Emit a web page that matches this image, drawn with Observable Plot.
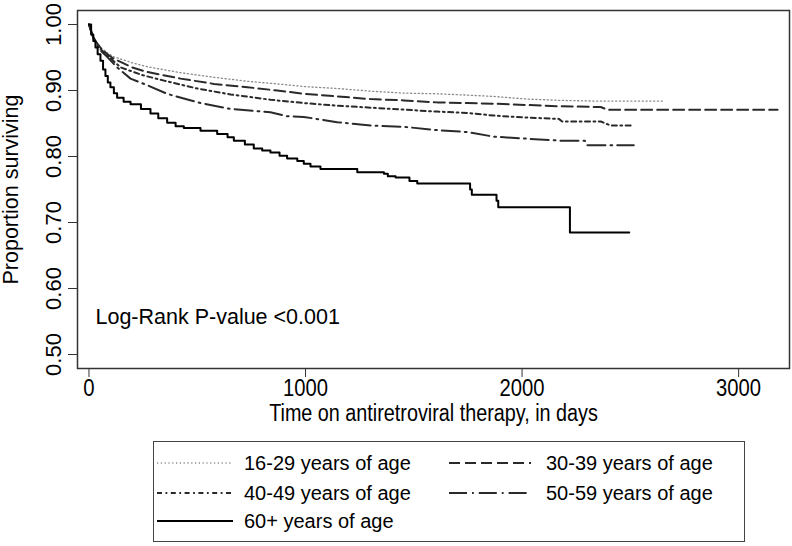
<!DOCTYPE html>
<html>
<head>
<meta charset="utf-8">
<script src="https://cdn.jsdelivr.net/npm/d3@7"></script>
<script src="https://cdn.jsdelivr.net/npm/@observablehq/plot@0.6"></script>
<style>
  html, body { margin: 0; padding: 0; background: #fff; overflow: hidden; }
  #fig { position: relative; width: 792px; height: 546px; font-family: "Liberation Sans", Arial, Helvetica, sans-serif; }
  #legend { position: absolute; left: 153px; top: 441px; width: 592px; height: 101px; box-sizing: border-box; border: 1.5px solid #444; }
  #legend svg { display: block; }
</style>
</head>
<body>
<div id="fig"><div id="plot"></div><div id="legend"></div></div>
<script>
// ---- Data ----
const groups = ["16-29 years of age", "30-39 years of age", "40-49 years of age", "50-59 years of age", "60+ years of age"];

const t1629 = [0, 15, 30, 55, 85, 115, 200, 269, 423, 577, 731, 869, 992, 1146, 1300, 1454, 1608, 1747, 1870, 2024, 2178, 2332, 2655];
const s1629 = [1, 0.985, 0.975, 0.965, 0.957, 0.951, 0.942, 0.936, 0.927, 0.920, 0.914, 0.910, 0.906, 0.903, 0.899, 0.896, 0.895, 0.893, 0.891, 0.887, 0.885, 0.884, 0.884];

const t3039 = [0, 15, 30, 55, 85, 115, 200, 269, 423, 577, 731, 869, 992, 1146, 1300, 1454, 1608, 1747, 1870, 2024, 2178, 2363, 2393, 3180];
const s3039 = [1, 0.985, 0.975, 0.964, 0.955, 0.948, 0.935, 0.928, 0.918, 0.910, 0.905, 0.900, 0.895, 0.891, 0.887, 0.885, 0.882, 0.881, 0.880, 0.878, 0.876, 0.875, 0.871, 0.871];

const t4049 = [0, 15, 30, 55, 85, 146, 250, 346, 500, 654, 838, 992, 1146, 1300, 1454, 1608, 1747, 1870, 2024, 2170, 2185, 2363, 2409, 2504];
const s4049 = [1, 0.985, 0.974, 0.962, 0.953, 0.935, 0.923, 0.915, 0.903, 0.894, 0.886, 0.881, 0.877, 0.874, 0.871, 0.868, 0.866, 0.862, 0.859, 0.857, 0.853, 0.853, 0.847, 0.847];

const t5059 = [0, 15, 30, 55, 84, 130, 192, 269, 361, 392, 515, 654, 838, 915, 992, 1146, 1300, 1454, 1608, 1747, 1870, 2024, 2178, 2290, 2301, 2516];
const s5059 = [1, 0.984, 0.972, 0.960, 0.951, 0.935, 0.918, 0.908, 0.895, 0.892, 0.881, 0.872, 0.867, 0.861, 0.860, 0.852, 0.847, 0.845, 0.840, 0.837, 0.830, 0.827, 0.824, 0.824, 0.817, 0.817];

const t60 = [0, 10, 20, 30, 40, 53, 65, 76, 87, 99, 115, 130, 160, 192, 240, 284, 320, 361, 400, 438, 515, 592, 640, 669, 720, 761, 800, 838, 880, 915, 962, 992, 1023, 1069, 1208, 1239, 1362, 1380, 1416, 1480, 1516, 1760, 1768, 1882, 1890, 2221, 2495];
const s60 = [1, 0.985, 0.975, 0.965, 0.955, 0.945, 0.932, 0.922, 0.912, 0.905, 0.896, 0.889, 0.883, 0.879, 0.872, 0.865, 0.858, 0.851, 0.846, 0.843, 0.839, 0.834, 0.829, 0.824, 0.818, 0.812, 0.809, 0.806, 0.801, 0.797, 0.793, 0.789, 0.785, 0.781, 0.781, 0.776, 0.774, 0.770, 0.768, 0.763, 0.759, 0.750, 0.742, 0.733, 0.723, 0.685, 0.685];

const xTicks = [0, 1000, 2000, 3000];
const yTicks = [0.5, 0.6, 0.7, 0.8, 0.9, 1.0];
const xLabel = "Time on antiretroviral therapy, in days";
const yLabel = "Proportion surviving";
const annotation = {text: "Log-Rank P-value <0.001", t: 30, s: 0.557};

// ---- Build tidy rows ----
const seriesT = [t1629, t3039, t4049, t5059, t60];
const seriesS = [s1629, s3039, s4049, s5059, s60];
const rows = groups.map((g, i) => seriesT[i].map((t, j) => ({group: g, t, s: seriesS[i][j]})));

const styles = [
  {stroke: "#8a8a8a", strokeWidth: 1.3, strokeDasharray: "1.2,2.6"},
  {stroke: "#2a2a2a", strokeWidth: 2, strokeDasharray: "11,5"},
  {stroke: "#2a2a2a", strokeWidth: 2, strokeDasharray: "5,3.5,1.8,3.5"},
  {stroke: "#2a2a2a", strokeWidth: 2, strokeDasharray: "18,5,1.8,5"},
  {stroke: "#000", strokeWidth: 2, strokeDasharray: null}
];

const font = "Liberation Sans, Arial, Helvetica, sans-serif";

const chart = Plot.plot({
  width: 792,
  height: 432,
  marginLeft: 77,
  marginRight: 3,
  marginTop: 10,
  marginBottom: 64,
  style: {fontFamily: font, fontSize: "20px", background: "#fff", color: "#000", overflow: "visible"},
  x: {domain: [-53, 3235]},
  y: {domain: [0.4788, 1.0212]},
  marks: [
    Plot.axisX({ticks: xTicks, tickSize: 9, tickPadding: 2, fontSize: 23, tickFormat: d => String(d), label: null, stroke: "#333"}),
    Plot.axisY({ticks: yTicks, tickSize: 9, text: null, label: null, stroke: "#333"}),
    Plot.text(yTicks, {y: d => d, frameAnchor: "left", dx: -17, rotate: -90, text: d => d.toFixed(2), textAnchor: "middle", lineAnchor: "bottom", fontSize: 22, fill: "#000"}),
    ...rows.map((r, i) => {
      const st = styles[i];
      const opts = {x: "t", y: "s", stroke: st.stroke, strokeWidth: st.strokeWidth, curve: i === 4 ? "step-after" : "linear"};
      if (st.strokeDasharray) opts.strokeDasharray = st.strokeDasharray;
      return Plot.line(r, opts);
    }),
    Plot.text([annotation], {x: "t", y: "s", text: "text", textAnchor: "start", lineAnchor: "middle", fontSize: 21.5, fill: "#000"}),
    Plot.text([xLabel], {frameAnchor: "bottom", dy: 45, text: d => d, textAnchor: "middle", fontSize: 23, lineAnchor: "middle", fill: "#000"}),
    Plot.text([yLabel], {frameAnchor: "left", dx: -66, rotate: -90, text: d => d, textAnchor: "middle", fontSize: 21.5, lineAnchor: "middle", fill: "#000"}),
    Plot.frame({stroke: "#333", strokeWidth: 1.5})
  ]
});
document.getElementById("plot").appendChild(chart);

// Condense the horizontal x-axis texts (the reference uses a narrow face there)
const xTickStrings = xTicks.map(String);
d3.select(chart).selectAll("text").each(function() {
  const s = this.textContent;
  let k = null;
  if (xTickStrings.includes(s)) k = 0.88;
  else if (s === xLabel) k = 0.86;
  if (k !== null && this.getComputedTextLength) {
    const w = this.getComputedTextLength();
    if (w > 0) {
      this.setAttribute("textLength", (w * k).toFixed(1));
      this.setAttribute("lengthAdjust", "spacingAndGlyphs");
    }
  }
});

// ---- Legend (HTML box with inline SVG samples) ----
const legendLayout = [
  {col: 0, row: 0}, {col: 1, row: 0},
  {col: 0, row: 1}, {col: 1, row: 1},
  {col: 0, row: 2}
];
const colLine = [[3, 79], [295, 377]];
const colText = [90, 392];
const rowY = [21, 51, 79];
const lsvg = d3.select("#legend").append("svg").attr("width", 589).attr("height", 98);
groups.forEach((g, i) => {
  const {col, row} = legendLayout[i];
  const st = styles[i];
  const ln = lsvg.append("line")
    .attr("x1", colLine[col][0]).attr("x2", colLine[col][1])
    .attr("y1", rowY[row]).attr("y2", rowY[row])
    .attr("stroke", st.stroke).attr("stroke-width", st.strokeWidth);
  if (st.strokeDasharray) ln.attr("stroke-dasharray", st.strokeDasharray);
  lsvg.append("text")
    .attr("x", colText[col]).attr("y", rowY[row]).attr("dy", "0.35em")
    .attr("font-family", font).attr("font-size", 20).attr("fill", "#000")
    .text(g);
});
</script>
</body>
</html>
